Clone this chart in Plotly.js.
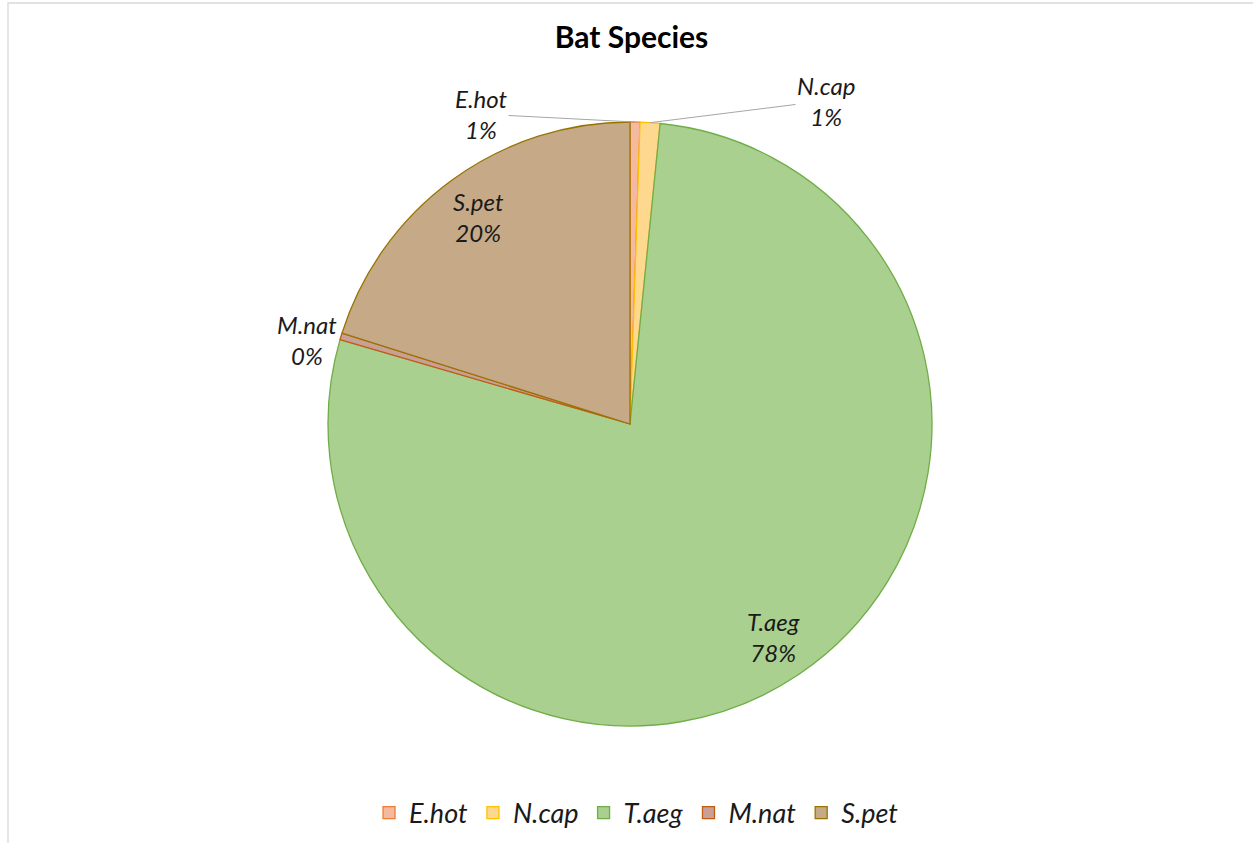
<!DOCTYPE html>
<html>
<head>
<meta charset="utf-8">
<script src="https://cdn.plot.ly/plotly-3.0.1.min.js"></script>
<style>html,body{margin:0;padding:0;background:#fff;}#chart{width:1253px;height:843px;}</style>
</head>
<body>
<div id="chart"></div>
<script>
const species = ["E.hot", "N.cap", "T.aeg", "M.nat", "S.pet"];
const counts = [3, 6, 441, 2, 114];
const fillColors = ["#F5B9A0", "#FFD88F", "#A9D08F", "#C9A097", "#C6AA88"];
const lineColors = ["#ED7D31", "#FFC000", "#70AD47", "#C55A11", "#997300"];
// label placement style per slice: inside, or outside with a pixel offset from the slice edge
const labelMode = ["leader", "leader", "inside", "outside", "inside"];
const labelOffsetX = [-154, 176, 0, -34, 0];
const labelOffsetY = [-8, -22, 0, 4, 0];

const W = 1253, H = 843;
const cx = 630, cy = 424, R = 302;
const FONT = "Lato, 'Open Sans', sans-serif";

const total = counts.reduce((a, b) => a + b, 0);
const annotations = [];
let cum = 0;
counts.forEach((v, i) => {
  const mid = (cum + v / 2) / total * 2 * Math.PI;
  cum += v;
  const pct = Math.round(v / total * 100) + "%";
  const txt = species[i] + "<br>" + pct;
  const rr = labelMode[i] === "inside" ? 0.85 * R : R;
  const px = cx + rr * Math.sin(mid);
  const py = cy - rr * Math.cos(mid);
  const base = { xref: "paper", yref: "paper", x: px / W, y: 1 - py / H, text: txt,
                 font: { family: FONT, size: 24, color: "#1a1a1a", style: "italic" } };
  if (labelMode[i] === "leader") {
    Object.assign(base, { showarrow: true, arrowhead: 0, arrowwidth: 1, arrowcolor: "#a6a6a6",
                          ax: labelOffsetX[i], ay: labelOffsetY[i], standoff: 0 });
  } else {
    Object.assign(base, { showarrow: false, xanchor: "center", yanchor: "middle",
                          xshift: labelOffsetX[i], yshift: -labelOffsetY[i] });
  }
  annotations.push(base);
});

const trace = {
  type: "pie",
  labels: species,
  values: counts,
  sort: false,
  direction: "clockwise",
  rotation: 0,
  marker: { colors: fillColors, line: { color: lineColors, width: 1.3 } },
  textinfo: "none",
  hoverinfo: "label+percent",
  domain: { x: [(cx - R) / W, (cx + R) / W], y: [(H - cy - R) / H, (H - cy + R) / H] }
};

const layout = {
  width: W, height: H,
  margin: { l: 0, r: 0, t: 0, b: 0 },
  paper_bgcolor: "#ffffff",
  title: { text: "<b>Bat Species</b>", x: 0.504, xanchor: "center", y: 1 - 37 / H, yanchor: "middle",
           font: { family: FONT, size: 30, color: "#000000" } },
  showlegend: true,
  legend: { orientation: "h", x: 0.508, xanchor: "center", y: 1 - 813 / H, yanchor: "middle",
            font: { family: FONT, size: 27, color: "#1a1a1a", style: "italic" },
            traceorder: "normal", itemwidth: 30 },
  annotations: annotations,
  shapes: [{ type: "rect", xref: "paper", yref: "paper", x0: 8 / W, x1: 1.02, y0: -0.02, y1: 1 - 3 / H,
             line: { color: "#d9d9d9", width: 1.3 }, fillcolor: "rgba(0,0,0,0)" }]
};

Plotly.newPlot("chart", [trace], layout, { displayModeBar: false, staticPlot: true });
</script>
</body>
</html>
